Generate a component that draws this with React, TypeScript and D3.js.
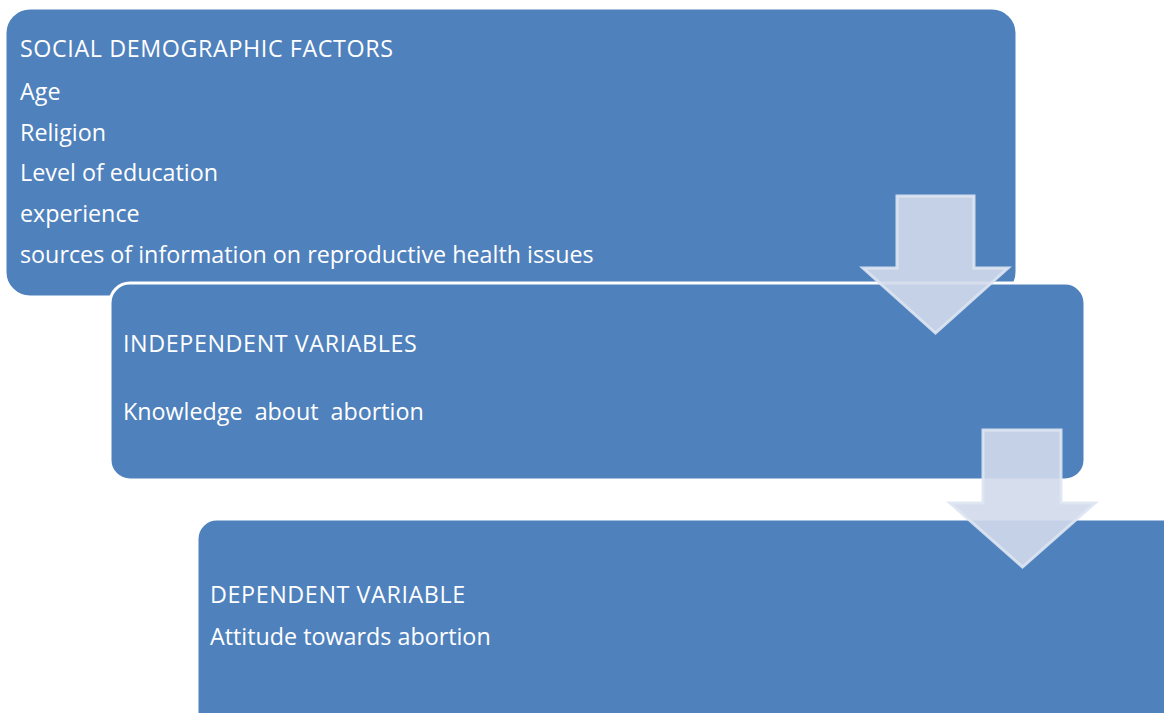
import React, { useRef, useEffect } from 'react'
import * as d3 from 'd3'

// content of the three stages
const stageTitles = [
  'SOCIAL DEMOGRAPHIC FACTORS',
  'INDEPENDENT VARIABLES',
  'DEPENDENT VARIABLE'
]
const socialItems = [
  'Age',
  'Religion',
  'Level of education',
  'experience',
  'sources of information on reproductive health issues'
]
const independentItems = ['Knowledge\u00a0 about\u00a0 abortion']
const dependentItems = ['Attitude towards abortion']

const W = 1164
const H = 713
const BLUE = '#4f81bd'

// box layout (x, y, w, h, r) and text placement
const boxes = [
  { x: 5, y: 8, w: 1012, h: 289, r: 25, tx: 20, ty: 57, gap: [43, 40.5, 40.5, 40.5, 41], items: socialItems },
  { x: 110, y: 283, w: 975, h: 197, r: 20, tx: 123, ty: 352, gap: [68], items: independentItems },
  { x: 197, y: 519, w: 985, h: 220, r: 20, tx: 210, ty: 603, gap: [42], items: dependentItems }
]

// arrows: stem left/right, stem top, wing left/right, wing y, tip y
const arrows = [
  { sx0: 897, sx1: 974, top: 196, wx0: 863, wx1: 1008, wy: 268, tip: 333 },
  { sx0: 983, sx1: 1061, top: 430, wx0: 950, wx1: 1095, wy: 503, tip: 567 }
]

const App = () => {
  const svgRef = useRef(null)

  useEffect(() => {
    const svg = d3.select(svgRef.current)
    svg.selectAll('*').remove()

    const drawBox = (b, i) => {
      const g = svg.append('g')
      g.append('rect')
        .attr('x', b.x)
        .attr('y', b.y)
        .attr('width', b.w)
        .attr('height', b.h)
        .attr('rx', b.r)
        .attr('fill', BLUE)
        .attr('stroke', 'white')
        .attr('stroke-width', 3)

      const t = g.append('text')
        .attr('fill', 'white')
        .attr('font-family', '"Open Sans", sans-serif')
        .attr('font-size', 23.3)
      t.append('tspan')
        .attr('x', b.tx)
        .attr('y', b.ty)
        .attr('letter-spacing', 0.6)
        .text(stageTitles[i])
      let y = b.ty
      b.items.forEach((s, j) => {
        y += b.gap[j]
        t.append('tspan').attr('x', b.tx).attr('y', y).text(s)
      })
    }

    const drawArrow = a => {
      const cx = (a.wx0 + a.wx1) / 2
      const pts = [
        [a.sx0, a.top], [a.sx1, a.top], [a.sx1, a.wy], [a.wx1, a.wy],
        [cx, a.tip], [a.wx0, a.wy], [a.sx0, a.wy]
      ]
      svg.append('path')
        .attr('d', d3.line()(pts) + 'Z')
        .attr('fill', 'rgba(210,217,234,0.9)')
        .attr('stroke', 'rgba(222,229,242,0.9)')
        .attr('stroke-width', 3)
        .attr('stroke-linejoin', 'miter')
    }

    drawBox(boxes[0], 0)
    drawBox(boxes[1], 1)
    drawArrow(arrows[0])
    drawBox(boxes[2], 2)
    drawArrow(arrows[1])
  }, [])

  return (
    <svg ref={svgRef} width={W} height={H} style={{ position: 'absolute', left: 0, top: 0 }} />
  )
}

export default App
